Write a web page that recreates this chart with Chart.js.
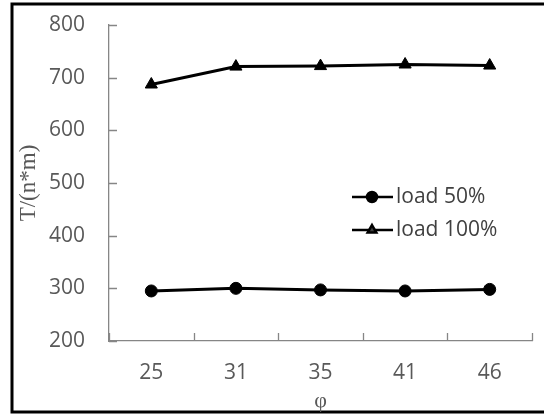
<!DOCTYPE html>
<html>
<head>
<meta charset="utf-8">
<script src="https://cdn.jsdelivr.net/npm/chart.js@4.4.1/dist/chart.umd.min.js"></script>
<style>
  html, body { margin: 0; padding: 0; background: #fff; }
  #wrap { width: 544px; height: 414px; position: relative; }
</style>
</head>
<body>
<div id="wrap"><canvas id="chart" width="544" height="414"></canvas></div>
<script>
// Chart data
const phiLabels = ['25', '31', '35', '41', '46'];
const load50 = [295, 300, 297, 295, 298];
const load100 = [687, 721, 722, 725, 723];
const yTicks = [200, 300, 400, 500, 600, 700, 800];

const tickFont = { family: "'Open Sans', sans-serif", size: 21 };
const tickColor = '#595959';
const axisColor = '#868686';

// Black frame round the picture
const framePlugin = {
    id: 'frame',
    beforeDraw(chart) {
        const ctx = chart.ctx;
        ctx.save();
        ctx.strokeStyle = '#000';
        ctx.lineWidth = 3;
        ctx.strokeRect(12, 4, 600, 408);
        ctx.restore();
    }
};

// Excel style "inside" tick marks
const innerTicks = {
    id: 'innerTicks',
    afterDraw(chart) {
        const ctx = chart.ctx;
        const x = chart.scales.x, y = chart.scales.y;
        ctx.save();
        ctx.strokeStyle = axisColor;
        ctx.lineWidth = 1.3;
        ctx.beginPath();
        yTicks.forEach(v => {
            const py = Math.round(y.getPixelForValue(v)) + 0.5;
            ctx.moveTo(x.left, py);
            ctx.lineTo(x.left + 8, py);
        });
        const n = phiLabels.length;
        for (let i = 0; i <= n; i++) {
            const px = Math.round(x.left + (x.right - x.left) * i / n) + 0.5;
            ctx.moveTo(px, y.bottom);
            ctx.lineTo(px, y.bottom - 8);
        }
        ctx.stroke();
        ctx.restore();
    }
};

// Legend drawn inside the plot area
const innerLegend = {
    id: 'innerLegend',
    afterDatasetsDraw(chart) {
        const ctx = chart.ctx;
        const rows = [
            { ds: chart.data.datasets[0], y: 197 },
            { ds: chart.data.datasets[1], y: 230 }
        ];
        ctx.save();
        rows.forEach(r => {
            ctx.strokeStyle = '#000';
            ctx.lineWidth = 2.5;
            ctx.beginPath();
            ctx.moveTo(352, r.y);
            ctx.lineTo(393, r.y);
            ctx.stroke();
            Chart.helpers.drawPoint(ctx, {
                pointStyle: r.ds.pointStyle,
                radius: 5,
                borderWidth: 1
            }, 372, r.y);
            ctx.fillStyle = '#404040';
            ctx.font = "21px 'Open Sans', sans-serif";
            ctx.textBaseline = 'middle';
            ctx.textAlign = 'left';
            ctx.fillText(r.ds.label, 396, r.y);
        });
        ctx.restore();
    }
};

new Chart(document.getElementById('chart'), {
    type: 'line',
    data: {
        labels: phiLabels,
        datasets: [{
            label: 'load 50%',
            data: load50,
            borderColor: '#000',
            backgroundColor: '#000',
            borderWidth: 3,
            pointStyle: 'circle',
            pointRadius: 6,
            pointBorderWidth: 1,
            tension: 0
        }, {
            label: 'load 100%',
            data: load100,
            borderColor: '#000',
            backgroundColor: '#000',
            borderWidth: 3,
            pointStyle: 'triangle',
            pointRadius: 7,
            pointBorderWidth: 1,
            tension: 0
        }]
    },
    options: {
        responsive: false,
        animation: false,
        layout: { padding: { top: 25, right: 12, left: 0, bottom: 0 } },
        plugins: {
            legend: { display: false },
            tooltip: { enabled: false }
        },
        scales: {
            x: {
                offset: true,
                grid: { display: false, drawTicks: false },
                border: { color: axisColor, width: 1.3 },
                ticks: { color: tickColor, font: tickFont, padding: 19 },
                title: {
                    display: true,
                    text: 'φ',
                    color: tickColor,
                    font: { family: "'Liberation Serif', serif", size: 22 },
                    padding: { top: 0, bottom: 0 }
                },
                afterFit(scale) {
                    scale.height = 73;
                    scale.paddingLeft = 0;
                    scale.paddingRight = 0;
                }
            },
            y: {
                min: 200,
                max: 800,
                afterBuildTicks(scale) { scale.ticks = yTicks.map(v => ({ value: v })); },
                grid: { display: false, drawTicks: false },
                border: { color: axisColor, width: 1.3 },
                ticks: { color: tickColor, font: tickFont, padding: 24 },
                title: {
                    display: true,
                    text: 'T/(n*m)',
                    color: tickColor,
                    font: { family: "'Liberation Serif', serif", size: 23 },
                    padding: { top: 15, bottom: 0 }
                },
                afterFit(scale) {
                    scale.width = 109;
                    scale.paddingTop = 0;
                    scale.paddingBottom = 0;
                }
            }
        }
    },
    plugins: [framePlugin, innerTicks, innerLegend]
});
</script>
</body>
</html>
